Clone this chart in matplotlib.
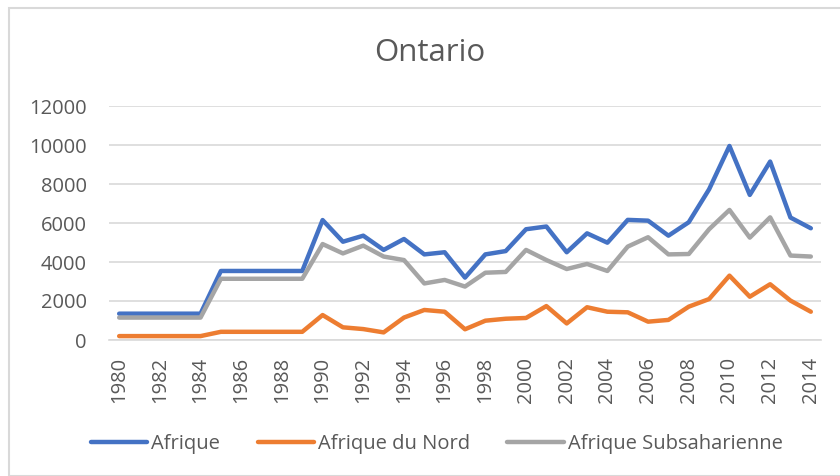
import matplotlib

matplotlib.use("Agg")
import matplotlib.pyplot as plt
from matplotlib.patches import Rectangle

# ── Data ──────────────────────────────────────────────────────────────────────

YEARS = list(range(1980, 2015))

AFRIQUE = [
    1350, 1350, 1350, 1350, 1350,
    3540, 3540, 3540, 3540, 3540,
    6150, 5040, 5350, 4620, 5180, 4390, 4500, 3200, 4390, 4560,
    5680, 5820, 4500, 5470, 4990, 6160, 6120, 5350, 6040, 7730,
    9950, 7440, 9150, 6280, 5730,
]
AFRIQUE_NORD = [
    200, 200, 200, 200, 200,
    420, 420, 420, 420, 420,
    1280, 650, 560, 390, 1150, 1540, 1450, 550, 990, 1090,
    1130, 1740, 850, 1680, 1450, 1420, 940, 1030, 1710, 2100,
    3300, 2220, 2860, 2020, 1450,
]
AFRIQUE_SUB = [
    1150, 1150, 1150, 1150, 1150,
    3140, 3140, 3140, 3140, 3140,
    4920, 4440, 4840, 4280, 4100, 2900, 3080, 2740, 3450, 3490,
    4620, 4100, 3640, 3900, 3540, 4790, 5270, 4390, 4410, 5680,
    6670, 5250, 6290, 4330, 4280,
]
SERIES_LABELS = ["Afrique", "Afrique du Nord", "Afrique Subsaharienne"]
Y_TICKS = [0, 2000, 4000, 6000, 8000, 10000, 12000]
X_TICKS = YEARS[::2]

# ── Style ─────────────────────────────────────────────────────────────────────

BLUE = "#4472C4"
ORANGE = "#ED7D31"
GRAY = "#A5A5A5"
TEXT = "#595959"
GRID = "#D9D9D9"
FS = 14.5

plt.rcParams["font.family"] = ["Open Sans", "DejaVu Sans"]

fig = plt.figure(figsize=(8.4, 4.76), dpi=100)
ax = fig.add_axes([109 / 840, 1 - 340 / 476, (821 - 109) / 840, (340 - 106) / 476])

# chart-area border
fig.patches.append(
    Rectangle((9 / 840, 0), 1.0, 1 - 8 / 476, transform=fig.transFigure,
              fill=False, edgecolor=GRID, linewidth=1.5)
)

for vals, color, label in zip(
    [AFRIQUE, AFRIQUE_NORD, AFRIQUE_SUB], [BLUE, ORANGE, GRAY], SERIES_LABELS
):
    ax.plot(YEARS, vals, color=color, linewidth=3.2, label=label,
            solid_capstyle="round", solid_joinstyle="round")

ax.set_xlim(1979.5, 2014.5)
ax.set_ylim(0, 12000)
ax.set_yticks(Y_TICKS)
ax.set_yticklabels([str(v) for v in Y_TICKS])
ax.set_xticks(X_TICKS)
ax.set_xticklabels([str(y) for y in X_TICKS], rotation=90)
ax.tick_params(axis="y", length=0, pad=16, labelsize=FS, labelcolor=TEXT)
ax.tick_params(axis="x", length=0, pad=12, labelsize=FS, labelcolor=TEXT)

ax.grid(axis="y", color=GRID, linewidth=1.2)
ax.set_axisbelow(True)
for side in ["top", "right", "left"]:
    ax.spines[side].set_visible(False)
ax.spines["bottom"].set_color(GRID)
ax.spines["bottom"].set_linewidth(1.2)

fig.text(0.512, 1 - 53 / 476, "Ontario", ha="center", va="center",
         fontsize=22.5, color=TEXT)

fig.legend(loc="center", bbox_to_anchor=(0.52, 1 - 444 / 476), ncol=3,
           frameon=False, fontsize=FS, labelcolor=TEXT, handlelength=2.8,
           handletextpad=0.2, columnspacing=1.85)

fig.savefig("out.png", dpi=100)
